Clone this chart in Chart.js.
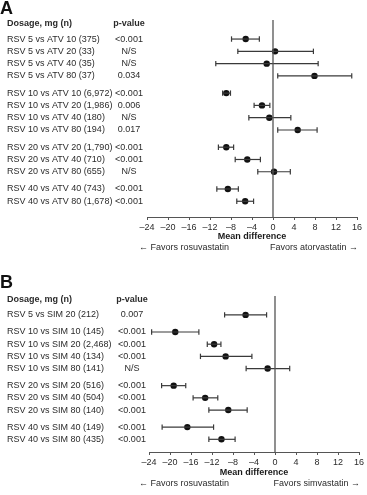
<!DOCTYPE html>
<html>
<head>
<meta charset="utf-8">
<script src="https://cdn.jsdelivr.net/npm/chart.js@4"></script>
<style>
  html, body { margin: 0; padding: 0; background: #fff; }
  canvas { display: block; }
</style>
</head>
<body>
<canvas id="chartA" width="367" height="262"></canvas>
<canvas id="chartB" width="367" height="233"></canvas>
<script>
// shared x axis ticks (mean difference)
const xTicks = [-24, -20, -16, -12, -8, -4, 0, 4, 8, 12, 16];

// Panel A: rosuvastatin vs atorvastatin
const labelsA = [
  "RSV 5 vs ATV 10 (375)", "RSV 5 vs ATV 20 (33)", "RSV 5 vs ATV 40 (35)", "RSV 5 vs ATV 80 (37)",
  "RSV 10 vs ATV 10 (6,972)", "RSV 10 vs ATV 20 (1,986)", "RSV 10 vs ATV 40 (180)", "RSV 10 vs ATV 80 (194)",
  "RSV 20 vs ATV 20 (1,790)", "RSV 20 vs ATV 40 (710)", "RSV 20 vs ATV 80 (655)",
  "RSV 40 vs ATV 40 (743)", "RSV 40 vs ATV 80 (1,678)",
];
const pValuesA = ["<0.001", "N/S", "N/S", "0.034", "<0.001", "0.006", "N/S", "0.017",
  "<0.001", "<0.001", "N/S", "<0.001", "<0.001"];
const meanA = [-5.2, 0.4, -1.2, 7.9, -8.9, -2.1, -0.7, 4.7, -8.9, -4.9, 0.2, -8.6, -5.3];
const lowerA = [-7.9, -6.7, -10.9, 0.9, -9.6, -3.6, -4.6, 0.9, -10.4, -7.2, -2.9, -10.7, -6.9];
const upperA = [-2.6, 7.7, 8.6, 15.0, -8.1, -0.6, 3.4, 8.4, -7.5, -2.4, 3.3, -6.6, -3.7];
const groupsA = [4, 4, 3, 2];

// Panel B: rosuvastatin vs simvastatin
const labelsB = [
  "RSV 5 vs SIM 20 (212)",
  "RSV 10 vs SIM 10 (145)", "RSV 10 vs SIM 20 (2,468)", "RSV 10 vs SIM 40 (134)", "RSV 10 vs SIM 80 (141)",
  "RSV 20 vs SIM 20 (516)", "RSV 20 vs SIM 40 (504)", "RSV 20 vs SIM 80 (140)",
  "RSV 40 vs SIM 40 (149)", "RSV 40 vs SIM 80 (435)",
];
const pValuesB = ["0.007", "<0.001", "<0.001", "<0.001", "N/S", "<0.001", "<0.001", "<0.001", "<0.001", "<0.001"];
const meanB = [-5.6, -19.0, -11.6, -9.4, -1.4, -19.3, -13.3, -8.9, -16.7, -10.2];
const lowerB = [-9.6, -23.5, -12.9, -14.2, -5.5, -21.6, -15.6, -12.6, -21.5, -12.6];
const upperB = [-1.6, -14.5, -10.3, -4.4, 2.8, -17.0, -10.9, -5.3, -11.7, -7.6];
const groupsB = [1, 4, 3, 2];

const FONT = "'Liberation Sans', Arial, sans-serif";
const TEXT = "#2b2b2b";

// row positions with a small gap between dosage groups
function rowPositions(groups, gap) {
  const pos = [];
  let p = 0;
  groups.forEach((n, g) => {
    if (g > 0) p += gap;
    for (let i = 0; i < n; i++) { pos.push(p); p += 1; }
  });
  return pos;
}

function makeForest(id, d) {
  const pos = rowPositions(d.groups, 0.4);
  const yMin = -1.55;
  const yMax = pos[pos.length - 1] + d.bottomPad;

  const datasets = [];
  // zero line
  datasets.push({
    data: [{ x: 0, y: yMin }, { x: 0, y: yMax }],
    showLine: true,
    borderColor: "#555",
    borderWidth: 1.3,
    pointRadius: 0,
  });
  // confidence intervals
  pos.forEach((p, i) => {
    datasets.push({
      data: [{ x: d.lower[i], y: p }, { x: d.upper[i], y: p }],
      showLine: true,
      borderColor: "#3a3a3a",
      borderWidth: 1.2,
      pointStyle: "line",
      pointRotation: 90,
      pointRadius: 2.7,
      pointBorderColor: "#3a3a3a",
      pointBorderWidth: 1.2,
    });
  });
  // means
  datasets.push({
    data: pos.map((p, i) => ({ x: d.mean[i], y: p })),
    showLine: false,
    pointRadius: 3.2,
    backgroundColor: "#111",
    borderColor: "#111",
    borderWidth: 0,
  });

  const textPlugin = {
    id: "forestText",
    afterDraw(chart) {
      const ctx = chart.ctx;
      const y = chart.scales.y;
      const area = chart.chartArea;
      ctx.save();
      ctx.fillStyle = "#111";
      ctx.textBaseline = "middle";
      ctx.textAlign = "left";
      ctx.font = "bold 18px " + FONT;
      ctx.fillText(d.letter, 0, d.letterY);

      ctx.fillStyle = TEXT;
      ctx.font = "bold 9px " + FONT;
      ctx.fillText("Dosage, mg (n)", 7, d.headerY);
      ctx.textAlign = "center";
      ctx.fillText("p-value", d.pX, d.headerY);

      ctx.font = "9px " + FONT;
      pos.forEach((p, i) => {
        const py = y.getPixelForValue(p);
        ctx.textAlign = "left";
        ctx.fillText(d.labels[i], 7, py);
        ctx.textAlign = "center";
        ctx.fillText(d.pValues[i], d.pX, py);
      });

      ctx.textAlign = "left";
      ctx.fillText("\u2190 Favors rosuvastatin", 139, d.favorsY);
      ctx.textAlign = "right";
      ctx.fillText("Favors " + d.comparator + " \u2192", area.right + 1, d.favorsY);
      ctx.restore();
    },
  };

  return new Chart(document.getElementById(id), {
    type: "scatter",
    data: { datasets },
    plugins: [textPlugin],
    options: {
      responsive: false,
      animation: false,
      events: [],
      layout: { padding: { left: d.left, right: d.right, top: d.top, bottom: 0 } },
      scales: {
        x: {
          type: "linear",
          min: xTicks[0],
          max: xTicks[xTicks.length - 1],
          afterBuildTicks: (s) => { s.ticks = xTicks.map((v) => ({ value: v })); },
          afterFit: (s) => { s.height = d.scaleH; },
          border: { display: true, color: "#555", width: 1 },
          grid: { drawOnChartArea: false, drawTicks: true, tickLength: 3, color: "#555" },
          ticks: {
            padding: 2,
            color: TEXT,
            font: { family: FONT, size: 9 },
            maxRotation: 0,
            callback: (v) => String(v).replace("-", "\u2013"),
          },
          title: {
            display: true,
            text: "Mean difference",
            color: "#1a1a1a",
            font: { family: FONT, size: 9, weight: "bold" },
            padding: { top: 0, bottom: d.titlePad },
          },
        },
        y: {
          type: "linear",
          display: false,
          reverse: true,
          min: yMin,
          max: yMax,
        },
      },
      plugins: {
        legend: { display: false },
        tooltip: { enabled: false },
      },
    },
  });
}

makeForest("chartA", {
  labels: labelsA, pValues: pValuesA, mean: meanA, lower: lowerA, upper: upperA, groups: groupsA,
  letter: "A", letterY: 9.5, headerY: 24, pX: 129, favorsY: 248, comparator: "atorvastatin",
  left: 147, right: 10, top: 20, scaleH: 45, titlePad: 20, bottomPad: 1.28,
});

makeForest("chartB", {
  labels: labelsB, pValues: pValuesB, mean: meanB, lower: lowerB, upper: upperB, groups: groupsB,
  letter: "B", letterY: 21.5, headerY: 38, pX: 132, favorsY: 222, comparator: "simvastatin",
  left: 149, right: 8, top: 34, scaleH: 43, titlePad: 17, bottomPad: 1.04,
});
</script>
</body>
</html>
